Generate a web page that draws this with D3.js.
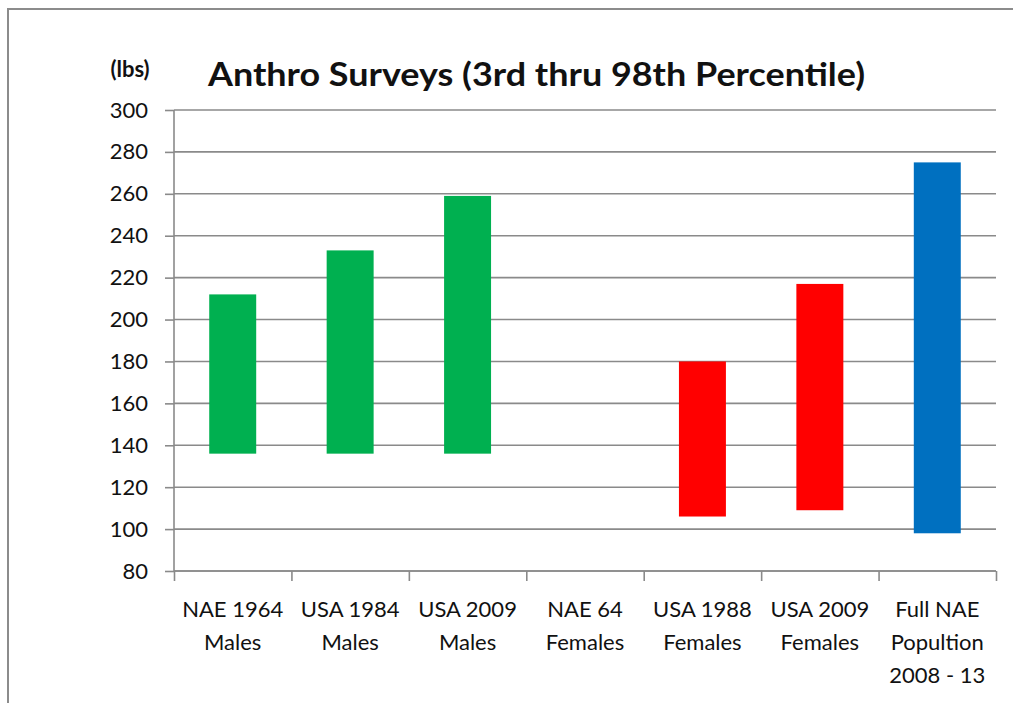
<!DOCTYPE html>
<html>
<head>
<meta charset="utf-8">
<script src="https://cdn.jsdelivr.net/npm/d3@7"></script>
<style>
  html, body { margin: 0; padding: 0; background: #fff; }
  svg { display: block; }
  text { font-family: Lato, "Open Sans", sans-serif; fill: #111; }
</style>
</head>
<body>
<svg id="chart" width="1013" height="703"></svg>
<script>
// Survey groups (each label split into lines)
const categories = [
  ["NAE 1964", "Males"],
  ["USA 1984", "Males"],
  ["USA 2009", "Males"],
  ["NAE 64", "Females"],
  ["USA 1988", "Females"],
  ["USA 2009", "Females"],
  ["Full NAE", "Popultion", "2008 - 13"]
];
// 3rd percentile weight (lbs) — bottom of each floating bar
const low = [136, 136, 136, null, 106, 109, 98];
// 98th percentile weight (lbs) — top of each floating bar
const high = [212, 233, 259, null, 180, 217, 275];
// Group type drives bar colour
const group = ["male", "male", "male", "female", "female", "female", "all"];
const yTicks = [80, 100, 120, 140, 160, 180, 200, 220, 240, 260, 280, 300];

const colour = { male: "#00B050", female: "#FF0000", all: "#0070C0" };

const svg = d3.select("#chart");

// outer chart frame
svg.append("rect")
  .attr("x", 8).attr("y", 9)
  .attr("width", 1020).attr("height", 720)
  .attr("fill", "none").attr("stroke", "#8c8c8c").attr("stroke-width", 2);

const plotL = 174, plotR = 996, plotT = 110, plotB = 571;

const keys = categories.map(c => c.join(" "));
const x = d3.scaleBand().domain(keys).range([plotL, plotR])
  .paddingInner(0.6).paddingOuter(0.3);
const y = d3.scaleLinear().domain([80, 300]).range([plotB, plotT]);

// horizontal gridlines
svg.append("g")
  .selectAll("line")
  .data(yTicks)
  .join("line")
  .attr("x1", plotL).attr("x2", plotR)
  .attr("y1", d => y(d)).attr("y2", d => y(d))
  .attr("stroke", "#8a8a8a").attr("stroke-width", 1.6);

// y axis
const yAxis = svg.append("g")
  .attr("transform", `translate(${plotL},0)`)
  .call(d3.axisLeft(y).tickValues(yTicks).tickSize(9).tickPadding(17));
yAxis.selectAll("path, line").attr("stroke", "#8a8a8a").attr("stroke-width", 1.6);
yAxis.select(".domain").attr("d", `M0,${y(300)}V${y(80)}`);
yAxis.selectAll("text")
  .style("font-family", "Lato, sans-serif")
  .style("font-size", "22px")
  .attr("fill", "#111");

// x axis with ticks at category boundaries
const xb = d3.scaleLinear().domain([0, keys.length]).range([plotL, plotR]);
const xAxis = svg.append("g")
  .attr("transform", `translate(0,${plotB})`)
  .call(d3.axisBottom(xb).ticks(keys.length).tickSize(10).tickFormat(""));
xAxis.selectAll("path, line").attr("stroke", "#8a8a8a").attr("stroke-width", 1.6);
xAxis.select(".domain").attr("d", `M${plotL},0H${plotR}`);

// category labels
const lab = svg.append("g")
  .selectAll("text")
  .data(categories.map((c, i) => ({ lines: c, key: keys[i] })))
  .join("text")
  .attr("text-anchor", "middle")
  .attr("font-size", 22)
  .attr("x", d => x(d.key) + x.bandwidth() / 2)
  .attr("y", 617);
lab.selectAll("tspan")
  .data(d => d.lines.map(l => ({ l, cx: x(d.key) + x.bandwidth() / 2 })))
  .join("tspan")
  .attr("x", d => d.cx)
  .attr("dy", (d, i) => i === 0 ? 0 : 33)
  .text(d => d.l);

// floating bars from 3rd to 98th percentile
svg.append("g")
  .selectAll("rect")
  .data(keys.map((k, i) => ({ k, lo: low[i], hi: high[i], g: group[i] }))
    .filter(d => d.lo != null && d.hi != null))
  .join("rect")
  .attr("x", d => x(d.k))
  .attr("width", x.bandwidth())
  .attr("y", d => y(d.hi))
  .attr("height", d => y(d.lo) - y(d.hi))
  .attr("fill", d => colour[d.g]);

// title and unit label
svg.append("text")
  .attr("x", 208).attr("y", 86)
  .attr("font-size", 32).attr("font-weight", 700)
  .attr("textLength", 657).attr("lengthAdjust", "spacingAndGlyphs")
  .attr("fill", "#000")
  .text("Anthro Surveys (3rd thru 98th Percentile)");

svg.append("text")
  .attr("x", 130).attr("y", 77)
  .attr("text-anchor", "middle")
  .attr("font-size", 22).attr("font-weight", 700)
  .text("(lbs)");
</script>
</body>
</html>
